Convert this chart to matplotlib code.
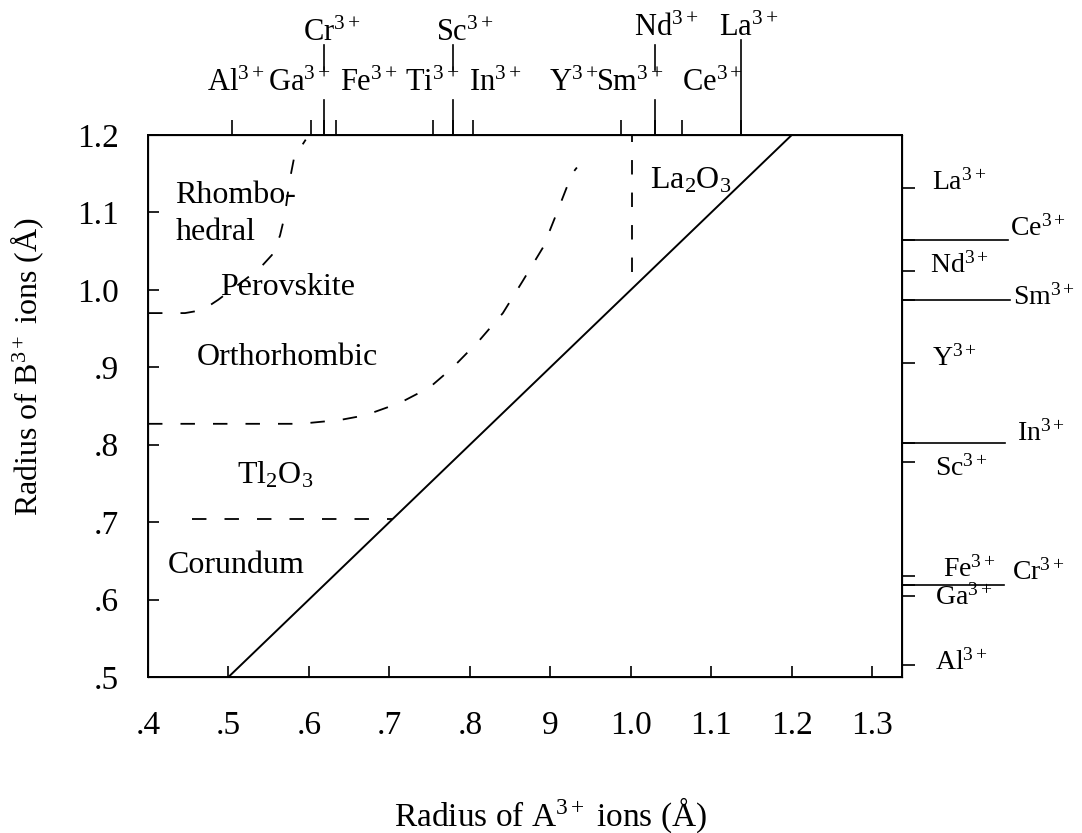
import matplotlib
matplotlib.use('Agg')
import matplotlib.pyplot as plt

plt.rcParams['font.family'] = ['Liberation Serif', 'DejaVu Serif']
plt.rcParams['mathtext.fontset'] = 'custom'
plt.rcParams['mathtext.rm'] = 'Liberation Serif'
plt.rcParams['mathtext.it'] = 'Liberation Serif:italic'

# solid boundary A = B
ab_x = [0.5, 1.2]
ab_y = [0.5, 1.2]

# rhombohedral / perovskite boundary
rhombo_x = [0.400, 0.446, 0.468, 0.487, 0.514, 0.539, 0.554, 0.564, 0.570, 0.576, 0.582, 0.591, 0.596]
rhombo_y = [0.970, 0.970, 0.974, 0.987, 1.008, 1.028, 1.045, 1.070, 1.096, 1.141, 1.173, 1.186, 1.194]

# orthorhombic / Tl2O3 boundary
ortho_x = [0.400, 0.589, 0.639, 0.670, 0.713, 0.750, 0.779, 0.812, 0.841, 0.866, 0.891, 0.906, 0.927, 0.933]
ortho_y = [0.827, 0.827, 0.832, 0.838, 0.854, 0.874, 0.900, 0.935, 0.970, 1.012, 1.055, 1.094, 1.150, 1.158]

# Tl2O3 / corundum boundary
tl_x = [0.455, 0.704]
tl_y = [0.704, 0.704]

# La2O3 boundary
la_x = [1.002, 1.002]
la_y = [1.023, 1.2]

x_ticks = [0.4, 0.5, 0.6, 0.7, 0.8, 0.9, 1.0, 1.1, 1.2, 1.3]
x_ticklabels = ['.4', '.5', '.6', '.7', '.8', '9', '1.0', '1.1', '1.2', '1.3']
y_ticks = [0.5, 0.6, 0.7, 0.8, 0.9, 1.0, 1.1, 1.2]
y_ticklabels = ['.5', '.6', '.7', '.8', '.9', '1.0', '1.1', '1.2']

# A ions marked along the top
a_ions = ['Al', 'Ga', 'Cr', 'Fe', 'Ti', 'Sc', 'In', 'Y', 'Nd', 'Ce', 'La']
a_radii = [0.504, 0.603, 0.619, 0.634, 0.754, 0.779, 0.804, 0.988, 1.030, 1.063, 1.137]
a_long = ['Cr', 'Sc', 'Nd', 'La']

# B ions marked along the right side
b_ions = ['La', 'Ce', 'Nd', 'Sm', 'Y', 'In', 'Sc', 'Fe', 'Cr', 'Ga', 'Al']
b_radii = [1.132, 1.064, 1.025, 0.987, 0.905, 0.802, 0.778, 0.630, 0.619, 0.604, 0.516]
b_long = ['Ce', 'Sm', 'In', 'Cr']

# label placement (layout only): top labels (text, x centre, height in axes frac)
top_labels = [('Al', 0.509, 1.096), ('Ga', 0.588, 1.096), ('Fe', 0.675, 1.096),
              ('Ti', 0.753, 1.096), ('In', 0.831, 1.096), ('Y', 0.929, 1.096),
              ('Sm', 0.999, 1.096), ('Ce', 1.102, 1.096), ('Cr', 0.628, 1.188),
              ('Sc', 0.794, 1.188), ('Nd', 1.044, 1.197), ('La', 1.146, 1.197)]
# right labels (text, left x in axes frac, y centre)
right_labels = [('La', 1.040, 1.139), ('Ce', 1.143, 1.079), ('Nd', 1.037, 1.032),
                ('Sm', 1.147, 0.990), ('Y', 1.040, 0.912), ('In', 1.153, 0.815),
                ('Sc', 1.044, 0.770), ('Fe', 1.054, 0.639), ('Cr', 1.146, 0.635),
                ('Ga', 1.044, 0.603), ('Al', 1.044, 0.519)]
right_line_end = {'Ce': 1.140, 'Sm': 1.143, 'In': 1.137, 'Cr': 1.135}

regions = [('Rhombo-', 0.434, 1.122), ('hedral', 0.434, 1.074), ('Perovskite', 0.489, 1.003),
           ('Orthorhombic', 0.461, 0.912), ('Tl$_2$O$_3$', 0.511, 0.761),
           ('Corundum', 0.425, 0.644), ('La$_2$O$_3$', 1.024, 1.141)]

fig = plt.figure(figsize=(10.82, 8.33), dpi=100)
ax = fig.add_axes([148 / 1082, 1 - 677 / 833, 754 / 1082, 542 / 833])
ax.set_xlim(0.4, 1.337)
ax.set_ylim(0.5, 1.2)
for s in ax.spines.values():
    s.set_linewidth(1.4)

dash = (0, (8, 10))
ax.plot(ab_x, ab_y, color='black', lw=1.4)
ax.plot(rhombo_x, rhombo_y, color='black', lw=1.3, linestyle=dash)
ax.plot(ortho_x, ortho_y, color='black', lw=1.3, linestyle=dash)
ax.plot(tl_x, tl_y, color='black', lw=1.3, linestyle=dash)
ax.plot(la_x, la_y, color='black', lw=1.3, linestyle=dash)

ax.set_xticks(x_ticks)
ax.set_xticklabels(x_ticklabels)
ax.set_yticks(y_ticks)
ax.set_yticklabels(y_ticklabels)
ax.tick_params(axis='x', direction='in', length=8, width=1.2, pad=24, labelsize=24)
ax.tick_params(axis='y', direction='in', length=8, width=1.2, pad=21, labelsize=24)

for txt, x, y in regions:
    ax.text(x, y, txt, fontsize=23, ha='left', va='center')

# top ion scale
ax_top = ax.twiny()
ax_top.set_xlim(ax.get_xlim())
ax_top.set_xticks(a_radii)
ax_top.set_xticklabels([])
ax_top.tick_params(axis='x', direction='out', length=11, width=1.2)
xt = ax.get_xaxis_transform()
for name, r in zip(a_ions, a_radii):
    if name in a_long:
        if name == 'La':
            ax.plot([r, r], [1.0, 1.175], color='black', lw=1.2, transform=xt, clip_on=False)
        else:
            ax.plot([r, r], [1.0, 1.065], color='black', lw=1.2, transform=xt, clip_on=False)
            ax.plot([r, r], [1.12, 1.166], color='black', lw=1.2, transform=xt, clip_on=False)
for name, x, y in top_labels:
    ax.text(x, y, name + r'$^{\mathrm{3+}}$', transform=xt, fontsize=22,
            ha='center', va='center', clip_on=False)

# right ion scale
ax_right = ax.twinx()
ax_right.set_ylim(ax.get_ylim())
ax_right.set_yticks(b_radii)
ax_right.set_yticklabels([])
ax_right.tick_params(axis='y', direction='out', length=9, width=1.2)
yt = ax.get_yaxis_transform()
for name, r in zip(b_ions, b_radii):
    if name in b_long:
        ax.plot([1.0, right_line_end[name]], [r, r], color='black', lw=1.2,
                transform=yt, clip_on=False)
for name, x, y in right_labels:
    ax.text(x, y, name + r'$^{\mathrm{3+}}$', transform=yt, fontsize=20,
            ha='left', va='center', clip_on=False)

fig.text(27 / 1082, 1 - 367 / 833, r'Radius of B$^{\mathrm{3+}}$ ions (Å)', fontsize=23,
         rotation=90, ha='center', va='center')
fig.text(551 / 1082, 1 - 815 / 833, r'Radius of A$^{\mathrm{3+}}$ ions (Å)', fontsize=24,
         ha='center', va='center')

plt.savefig('out.png', dpi=100)
